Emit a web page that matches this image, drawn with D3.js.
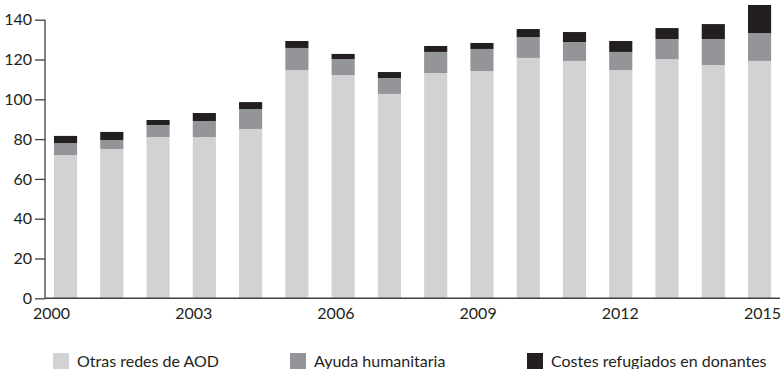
<!DOCTYPE html>
<html>
<head>
<meta charset="utf-8">
<script src="https://cdn.jsdelivr.net/npm/d3@7"></script>
<style>
  body { margin: 0; background: #fff; }
  svg { display: block; font-family: Lato, "Open Sans", sans-serif; }
  .tick text { fill: #231f20; }
  .legText { fill: #231f20; font-size: 16px; }
</style>
</head>
<body>
<div id="chart"></div>
<script>
// Data

var years = [2000, 2001, 2002, 2003, 2004, 2005, 2006, 2007, 2008, 2009, 2010, 2011, 2012, 2013, 2014, 2015];
var otrasRedes = [72, 75, 81, 81, 85.1, 114.7, 112.2, 102.7, 113.2, 114.2, 120.8, 119.3, 114.7, 120.2, 117.2, 119.3];
var ayudaHumanitaria = [6, 4.5, 6.1, 8.1, 10, 11.1, 8, 8, 10.6, 11.1, 10.5, 9.5, 9.1, 10.1, 13.1, 14];
var costesRefugiados = [3.6, 4.1, 2.5, 4, 3.5, 3.5, 2.6, 3, 3, 3, 4, 5, 5.5, 5.5, 7.5, 14.1];
var seriesNames = ['Otras redes de AOD', 'Ayuda humanitaria', 'Costes refugiados en donantes'];
var yTicks = [0, 20, 40, 60, 80, 100, 120, 140];
var xTickYears = [2000, 2003, 2006, 2009, 2012, 2015];

var colors = ['#d1d2d4', '#939598', '#231f20'];

// Set up the chart area
var svgWidth = 782;
var svgHeight = 369;
var axisX = 45;
var baseY = 298.3;

var svg = d3.select('#chart')
  .append('svg')
  .attr('width', svgWidth)
  .attr('height', svgHeight);

// build rows for the stack
var rows = years.map(function(y, i) {
  return { year: y, a: otrasRedes[i], b: ayudaHumanitaria[i], c: costesRefugiados[i] };
});
var stacked = d3.stack().keys(['a', 'b', 'c'])(rows);

// scales
var xBand = d3.scaleBand()
  .domain(years)
  .range([42.4, 782.7])
  .paddingInner(0.5)
  .paddingOuter(0.25);

var xYear = d3.scaleLinear()
  .domain([2000, 2015])
  .range([51, 762]);

var yScale = d3.scaleLinear()
  .domain([0, 140])
  .range([baseY, 19.7]);

// bars
var layers = svg.append('g').selectAll('g')
  .data(stacked)
  .enter()
  .append('g')
  .attr('fill', function(d, i) { return colors[i]; });

layers.selectAll('rect')
  .data(function(d) { return d; })
  .enter()
  .append('rect')
  .attr('x', function(d) { return xBand(d.data.year); })
  .attr('width', xBand.bandwidth())
  .attr('y', function(d) { return yScale(d[1]); })
  .attr('height', function(d) { return yScale(d[0]) - yScale(d[1]); });

// y axis
var leftAxis = d3.axisLeft(yScale)
  .tickValues(yTicks)
  .tickSize(10)
  .tickSizeOuter(0)
  .tickPadding(3);

var gy = svg.append('g')
  .attr('transform', 'translate(' + axisX + ',0)')
  .call(leftAxis);
gy.selectAll('line').attr('stroke', '#414042').attr('stroke-width', 1.3);
gy.select('.domain').remove();
gy.append('line')
  .attr('x1', 0).attr('x2', 0)
  .attr('y1', yScale(140)).attr('y2', baseY)
  .attr('stroke', '#414042').attr('stroke-width', 1.3);
gy.attr('font-size', 16).attr('font-family', null);

// x axis baseline + year labels
svg.append('line')
  .attr('x1', axisX).attr('x2', 780)
  .attr('y1', baseY).attr('y2', baseY)
  .attr('stroke', '#414042').attr('stroke-width', 1.5);

var bottomAxis = d3.axisBottom(xYear)
  .tickValues(xTickYears)
  .tickFormat(d3.format('d'))
  .tickSize(0)
  .tickPadding(9);

var gx = svg.append('g')
  .attr('transform', 'translate(0,' + baseY + ')')
  .call(bottomAxis);
gx.select('.domain').remove();
gx.attr('font-size', 16).attr('font-family', null);

// legend
var legX = [53, 290, 527];
var legend = svg.append('g').selectAll('g')
  .data(seriesNames)
  .enter()
  .append('g')
  .attr('transform', function(d, i) { return 'translate(' + legX[i] + ',353)'; });

legend.append('rect')
  .attr('width', 16)
  .attr('height', 16)
  .attr('fill', function(d, i) { return colors[i]; });

legend.append('text')
  .attr('class', 'legText')
  .attr('x', 24)
  .attr('y', 14)
  .text(function(d) { return d; });
</script>
</body>
</html>
